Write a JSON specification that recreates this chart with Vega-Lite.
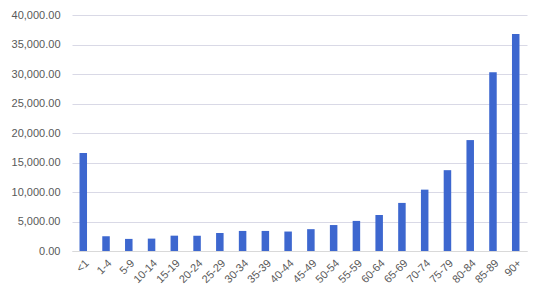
{
  "$schema": "https://vega.github.io/schema/vega-lite/v6.json",
  "autosize": "none",
  "width": 455,
  "height": 236,
  "padding": {"left": 72, "top": 15, "right": 16, "bottom": 49},
  "background": "#ffffff",
  "data": {
    "values": [
      {"age": "<1", "value": 16600},
      {"age": "1-4", "value": 2500},
      {"age": "5-9", "value": 2050},
      {"age": "10-14", "value": 2100},
      {"age": "15-19", "value": 2600},
      {"age": "20-24", "value": 2600},
      {"age": "25-29", "value": 3050},
      {"age": "30-34", "value": 3400},
      {"age": "35-39", "value": 3400},
      {"age": "40-44", "value": 3300},
      {"age": "45-49", "value": 3700},
      {"age": "50-54", "value": 4400},
      {"age": "55-59", "value": 5100},
      {"age": "60-64", "value": 6100},
      {"age": "65-69", "value": 8150},
      {"age": "70-74", "value": 10400},
      {"age": "75-79", "value": 13700},
      {"age": "80-84", "value": 18800},
      {"age": "85-89", "value": 30300},
      {"age": "90+", "value": 36800}
    ]
  },
  "mark": {"type": "bar", "color": "#3D67CF"},
  "encoding": {
    "x": {
      "field": "age",
      "type": "nominal",
      "sort": null,
      "scale": {"paddingInner": 0.67, "paddingOuter": 0.33},
      "axis": {
        "title": null,
        "labelAngle": -45,
        "ticks": false,
        "labelPadding": 6,
        "domainColor": "#D9D9D9",
        "labelFont": "Liberation Sans",
        "labelFontSize": 11,
        "labelColor": "#595959"
      }
    },
    "y": {
      "field": "value",
      "type": "quantitative",
      "scale": {"domain": [0, 40000], "nice": false},
      "axis": {
        "title": null,
        "format": ",.2f",
        "values": [0, 5000, 10000, 15000, 20000, 25000, 30000, 35000, 40000],
        "ticks": false,
        "domain": false,
        "labelPadding": 12,
        "gridColor": "#D9D9E6",
        "labelFont": "Liberation Sans",
        "labelFontSize": 11,
        "labelColor": "#595959"
      }
    }
  },
  "config": {"view": {"stroke": null}}
}
